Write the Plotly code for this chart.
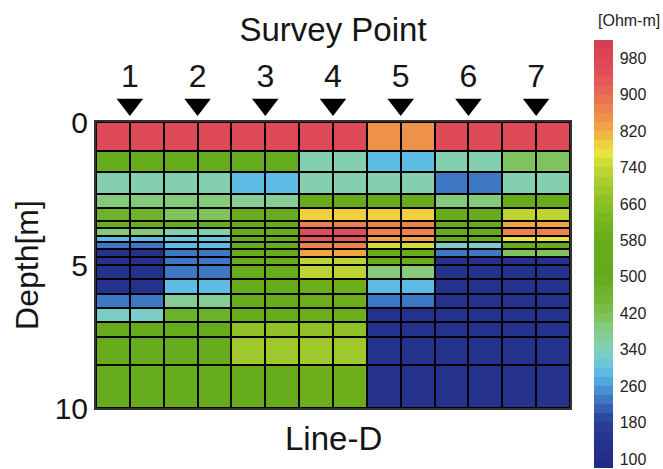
import plotly.graph_objects as go

# Layer boundaries (depth in m) of the resistivity model
depth_edges = [0, 1.0, 1.75, 2.5, 3.0, 3.45, 3.72, 4.0, 4.2, 4.45, 4.72,
               5.0, 5.5, 6.0, 6.5, 7.0, 7.5, 8.5, 10.0]

# Survey points along Line-D
survey_points = [1, 2, 3, 4, 5, 6, 7]

# Resistivity [Ohm-m] per layer (top -> bottom) beneath each survey point
sp1 = [960, 520, 340, 380, 460, 480, 380, 290, 220, 130, 130, 130, 130, 220, 330, 520, 540, 540]
sp2 = [960, 520, 340, 390, 400, 480, 350, 300, 280, 230, 230, 220, 290, 370, 460, 520, 540, 540]
sp3 = [960, 520, 290, 360, 480, 520, 560, 560, 560, 560, 560, 560, 560, 560, 560, 660, 680, 560]
sp4 = [960, 340, 340, 540, 780, 860, 940, 920, 860, 820, 720, 720, 580, 580, 580, 670, 690, 580]
sp5 = [850, 290, 340, 560, 780, 860, 860, 820, 740, 560, 560, 380, 290, 220, 130, 130, 130, 130]
sp6 = [960, 340, 220, 390, 520, 520, 520, 520, 330, 220, 120, 120, 120, 120, 120, 120, 120, 120]
sp7 = [960, 400, 340, 520, 720, 820, 860, 770, 520, 400, 120, 120, 120, 120, 120, 120, 120, 120]

profiles = [sp1, sp2, sp3, sp4, sp5, sp6, sp7]

# Colour bar levels
cmin, cmax, step = 80, 1020, 20
tick_vals = list(range(100, 1000, 80))

# Anchor colours of the resistivity palette
anchors = [
    (80, "#1e2a82"), (140, "#25338e"), (180, "#2a409a"), (200, "#2e52a8"),
    (220, "#3a6cbc"), (240, "#4282cc"), (260, "#4c9ad8"), (280, "#58b4e4"),
    (300, "#62c2e4"), (320, "#74cad4"), (340, "#82d0bc"), (380, "#88cc88"),
    (420, "#7cc050"), (460, "#70b430"), (500, "#64aa1c"), (580, "#66ac1a"),
    (620, "#76b61e"), (660, "#88c026"), (700, "#a6ca2e"), (740, "#c6d836"),
    (770, "#e8e43e"), (790, "#f0d03e"), (820, "#f0ac42"), (860, "#ee8a4c"),
    (900, "#e86c54"), (940, "#e2525a"), (980, "#dc4656"), (1020, "#d63c50"),
]


def hex_to_rgb(h):
    return tuple(int(h[i:i + 2], 16) for i in (1, 3, 5))


def colour_at(v):
    for (v0, c0), (v1, c1) in zip(anchors[:-1], anchors[1:]):
        if v0 <= v <= v1:
            t = (v - v0) / (v1 - v0) if v1 > v0 else 0
            a, b = hex_to_rgb(c0), hex_to_rgb(c1)
            return "rgb(%d,%d,%d)" % tuple(round(a[i] + (b[i] - a[i]) * t) for i in range(3))
    return anchors[-1][1] if v > anchors[-1][0] else anchors[0][1]


# Stepped colour scale: one flat colour per 20 Ohm-m bin
nbins = (cmax - cmin) // step
colorscale = []
for k in range(nbins):
    c = colour_at(cmin + step * (k + 0.5))
    colorscale.append([k / nbins, c])
    colorscale.append([(k + 1) / nbins, c])

# Two cells per survey point, one either side of it
x_edges = [0.5 + 0.5 * i for i in range(15)]
z = []
for row in range(len(depth_edges) - 1):
    z_row = []
    for prof in profiles:
        z_row += [prof[row], prof[row]]
    z.append(z_row)

FONT = "Liberation Sans, Arial, sans-serif"
INK = "#151515"

fig = go.Figure()
fig.add_trace(go.Heatmap(
    x=x_edges, y=depth_edges, z=z,
    zmin=cmin, zmax=cmax, colorscale=colorscale,
    xgap=2, ygap=2, hoverinfo="skip",
    colorbar=dict(
        x=1.0506, xanchor="left", xpad=0,
        y=0.3969, yanchor="middle", ypad=0,
        lenmode="pixels", len=428, thickness=19,
        outlinewidth=0, ticks="outside", ticklen=4,
        tickcolor="rgba(0,0,0,0)", tickvals=tick_vals,
        tickfont=dict(family=FONT, size=16, color="#222"),
    ),
))

# Survey point markers in a thin strip above the section
fig.add_trace(go.Scatter(
    x=survey_points, y=[0.596] * len(survey_points), mode="markers",
    xaxis="x2", yaxis="y2",
    marker=dict(symbol="triangle-down", size=23, color="black"),
    hoverinfo="skip", showlegend=False,
))

fig.update_layout(
    width=663, height=469,
    margin=dict(l=96, r=93, t=20, b=61, autoexpand=False),
    paper_bgcolor="white", plot_bgcolor="white",
    font=dict(family=FONT, color=INK),
    # black backing behind the cells so the cell gaps read as grid lines
    shapes=[dict(type="rect", xref="x domain", yref="y domain",
                 x0=0, x1=1, y0=0, y1=1, layer="below",
                 fillcolor="black", line=dict(width=0))],
    xaxis=dict(
        range=[0.5, 7.5], showticklabels=False, ticks="",
        showgrid=False, zeroline=False,
        showline=True, linecolor="#333", linewidth=2, mirror=True,
    ),
    yaxis=dict(
        domain=[0, 0.73711], range=[10, 0], tickvals=[0, 5, 10], ticks="",
        showgrid=False, zeroline=False,
        tickfont=dict(size=30),
        title=dict(text="Depth[m]", font=dict(size=32), standoff=6),
        showline=True, linecolor="#333", linewidth=2, mirror=True,
    ),
    xaxis2=dict(
        anchor="y2", matches="x", side="top", tickvals=survey_points,
        ticks="", showgrid=False, zeroline=False, showline=False,
        tickfont=dict(size=32),
        title=dict(text="Survey Point", font=dict(size=33), standoff=6),
    ),
    yaxis2=dict(domain=[0.74227, 0.80928], range=[0, 1], visible=False),
    annotations=[
        dict(text="Line-D", x=0.5, y=-0.026, xref="paper", yref="paper",
             xanchor="center", yanchor="top", showarrow=False,
             font=dict(family=FONT, size=33, color=INK)),
        dict(text="[Ohm-m]", x=1.1245, y=1.0, xref="paper", yref="paper",
             xanchor="center", yanchor="middle", showarrow=False,
             font=dict(family=FONT, size=16, color="#222")),
    ],
)

fig.write_html("out.html")
